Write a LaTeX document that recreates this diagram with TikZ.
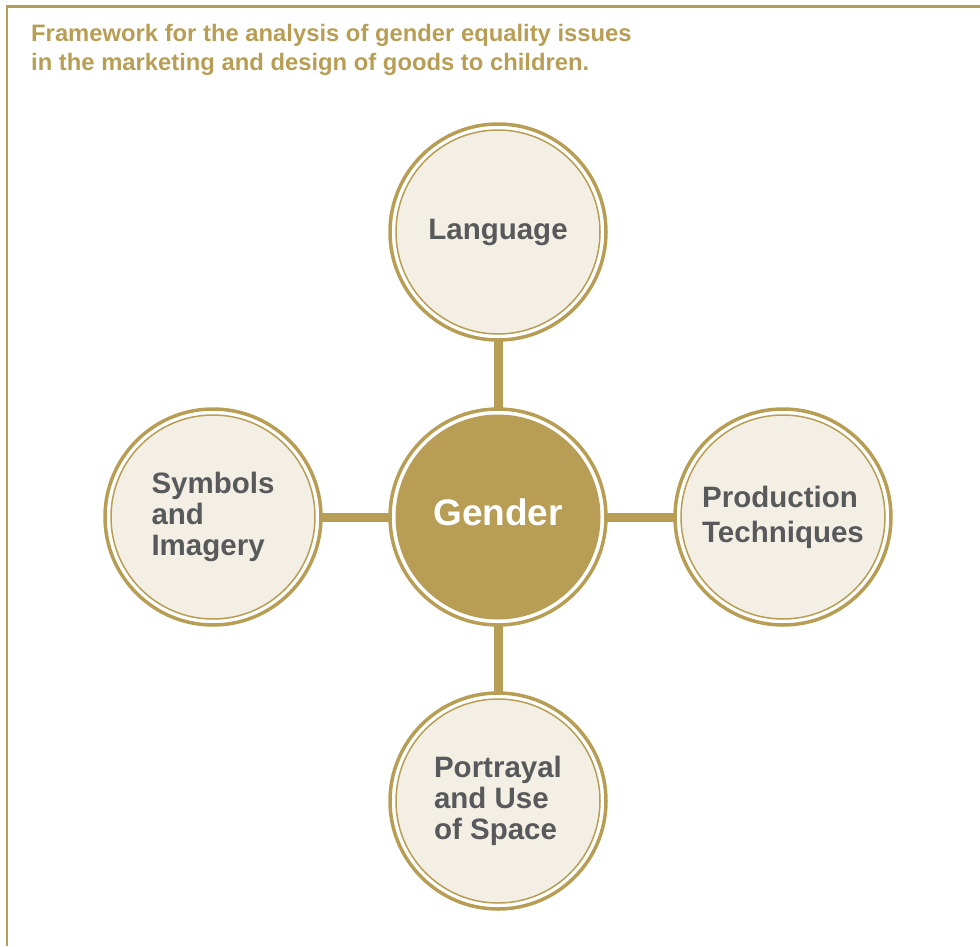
\documentclass[tikz,border=0pt]{standalone}
\usepackage{fontspec}
\setmainfont{Liberation Sans}
\definecolor{gold}{HTML}{B89E54}
\definecolor{beige}{HTML}{F3EFE5}
\definecolor{textgray}{HTML}{58595B}

\begin{document}
\begin{tikzpicture}[x=1pt,y=-1pt,
  topic/.style={circle,minimum size=216pt,inner sep=0pt,draw=gold,line width=3.5pt,
    fill=white,text=textgray,align=left,font=\fontsize{29.5}{31}\selectfont\bfseries,
    path picture={\draw[gold,line width=1.5pt,fill=beige]
      (path picture bounding box.center) circle (102pt);}},
  core/.style={topic,text=white,font=\fontsize{37}{40}\selectfont\bfseries,
    path picture={\fill[gold] (path picture bounding box.center) circle (102.5pt);}},
  link/.style={draw=gold,line width=9pt,shorten <=-1pt,shorten >=-1pt}]
  \useasboundingbox (0,0) rectangle (980,946);
  % frame
  \draw[gold,line width=2.5pt] (7,946) -- (7,6.5) -- (980,6.5);
  \node[anchor=north west,inner sep=0pt,align=left,text=gold,
    font=\fontsize{23.8}{29}\selectfont\bfseries] (title) at (31,24.5)
    {Framework for the analysis of gender equality issues\\
     in the marketing and design of goods to children.};
  % circles
  \draw (498,517) node[core] (gender) {\raisebox{9pt}{Gender}};
  \draw (498,232) node[topic] (lang) {Language};
  \draw (213,517) node[topic] (symb) {Symbols\\and\\Imagery};
  \draw (783,517) node[topic,font=\fontsize{29.5}{35}\selectfont\bfseries] (prod)
    {Production\\Techniques};
  \draw (498,801) node[topic] (space) {Portrayal\\and Use\\of Space};
  % links
  \draw[link] (gender) -- (lang);
  \draw[link] (gender) -- (symb);
  \draw[link] (gender) -- (prod);
  \draw[link] (gender) -- (space);
\end{tikzpicture}
\end{document}
